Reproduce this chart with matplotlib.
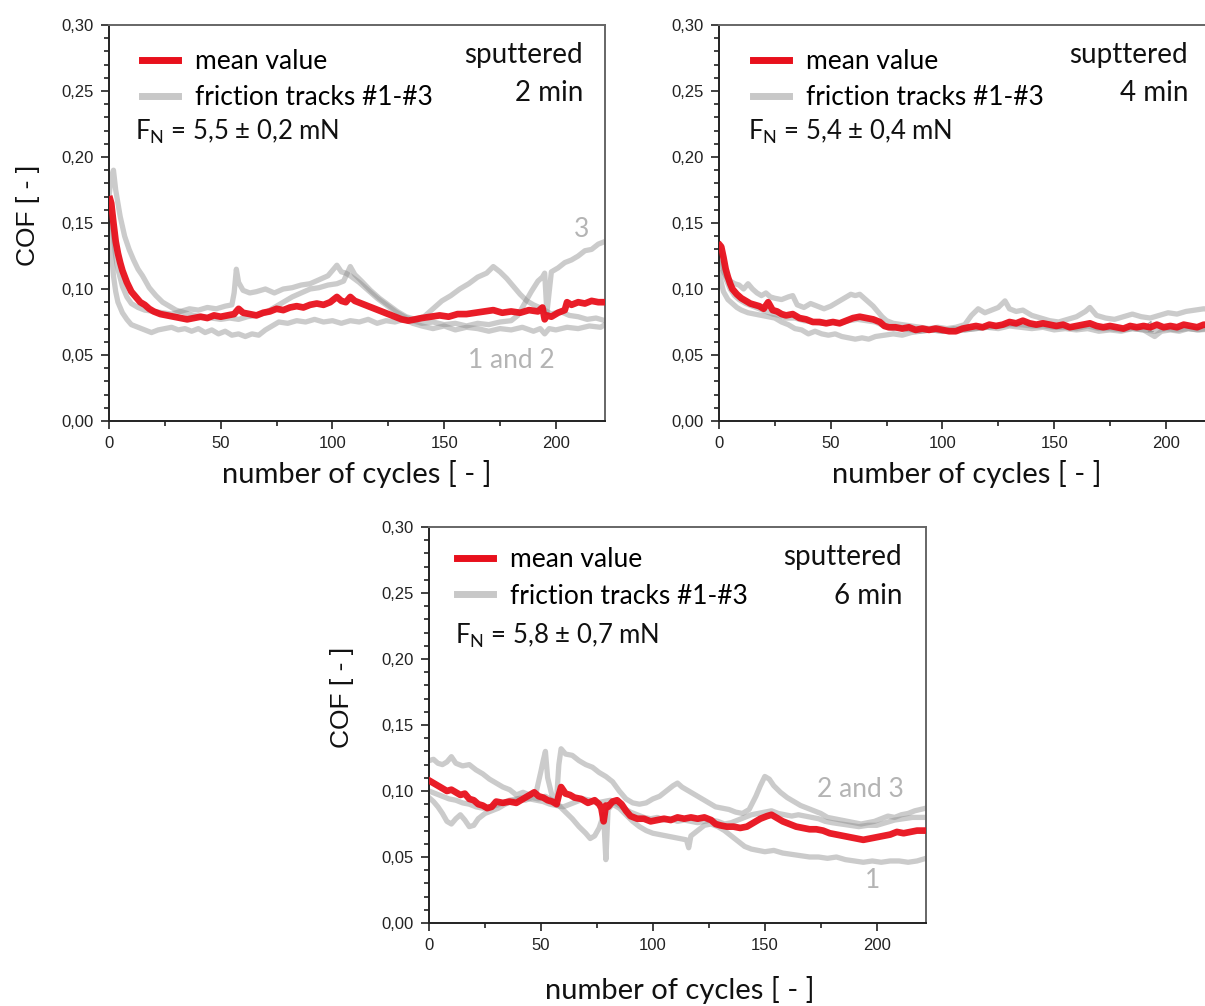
import matplotlib
matplotlib.use("Agg")
import matplotlib.pyplot as plt
from matplotlib.ticker import MultipleLocator, FuncFormatter

# ---------------- data ----------------
# Panel 1: sputtered 2 min
p1_t1_x = [0, 1, 2, 3, 4, 6, 8, 10, 13, 16, 19, 22, 25, 28, 31, 34, 37, 40, 43, 46, 49, 52, 55, 58, 61, 64, 67, 70, 73, 76, 80, 84, 88, 92, 96, 100, 104, 108, 112, 116, 120, 124, 128, 132, 136, 140, 145, 150, 155, 160, 165, 170, 175, 180, 185, 190, 193, 195, 197, 200, 205, 210, 215, 220, 222]
p1_t1_y = [0.15, 0.13, 0.11, 0.098, 0.09, 0.082, 0.077, 0.073, 0.071, 0.069, 0.067, 0.069, 0.07, 0.071, 0.069, 0.07, 0.068, 0.07, 0.067, 0.069, 0.066, 0.068, 0.065, 0.066, 0.064, 0.066, 0.065, 0.069, 0.072, 0.075, 0.074, 0.076, 0.075, 0.077, 0.075, 0.076, 0.074, 0.076, 0.075, 0.077, 0.074, 0.076, 0.075, 0.077, 0.074, 0.072, 0.07, 0.072, 0.069, 0.071, 0.07, 0.068, 0.07, 0.069, 0.071, 0.068, 0.07, 0.066, 0.07, 0.069, 0.071, 0.07, 0.072, 0.071, 0.073]
p1_t2_x = [0, 1, 2, 3, 5, 7, 9, 11, 13, 15, 18, 21, 24, 27, 30, 34, 38, 42, 46, 50, 54, 58, 62, 66, 70, 74, 78, 82, 86, 90, 94, 98, 102, 105, 108, 110, 113, 117, 121, 125, 129, 133, 137, 141, 145, 149, 153, 157, 161, 165, 169, 172, 175, 178, 181, 184, 187, 190, 194, 198, 202, 206, 210, 214, 218, 222]
p1_t2_y = [0.17, 0.185, 0.19, 0.175, 0.155, 0.14, 0.13, 0.122, 0.115, 0.11, 0.101, 0.095, 0.09, 0.087, 0.084, 0.082, 0.08, 0.079, 0.078, 0.077, 0.078, 0.077, 0.079, 0.08, 0.082, 0.086, 0.09, 0.094, 0.097, 0.1, 0.101, 0.103, 0.104, 0.106, 0.117, 0.111, 0.106, 0.099, 0.093, 0.088, 0.083, 0.079, 0.077, 0.079, 0.085, 0.091, 0.095, 0.1, 0.104, 0.109, 0.112, 0.117, 0.113, 0.108, 0.102, 0.096, 0.091, 0.088, 0.085, 0.081, 0.083, 0.08, 0.079, 0.077, 0.078, 0.076]
p1_t3_x = [0, 1, 2, 3, 4, 6, 8, 10, 13, 16, 20, 24, 28, 32, 36, 40, 44, 48, 52, 55, 56, 57, 58, 60, 63, 66, 70, 74, 78, 82, 86, 90, 94, 98, 100, 102, 104, 106, 108, 112, 116, 120, 124, 128, 132, 136, 140, 145, 150, 155, 160, 165, 170, 175, 180, 183, 186, 189, 192, 194, 195, 196, 198, 201, 204, 207, 210, 213, 216, 219, 222]
p1_t3_y = [0.16, 0.155, 0.14, 0.125, 0.115, 0.102, 0.094, 0.089, 0.086, 0.084, 0.083, 0.082, 0.081, 0.083, 0.085, 0.084, 0.086, 0.085, 0.087, 0.088, 0.097, 0.115, 0.105, 0.099, 0.097, 0.098, 0.1, 0.097, 0.1, 0.101, 0.103, 0.104, 0.107, 0.11, 0.114, 0.118, 0.113, 0.112, 0.11, 0.105, 0.099, 0.093, 0.088, 0.083, 0.079, 0.076, 0.074, 0.075, 0.073, 0.074, 0.072, 0.074, 0.073, 0.075, 0.076, 0.08, 0.089, 0.098, 0.106, 0.109, 0.112, 0.082, 0.113, 0.116, 0.12, 0.122, 0.125, 0.129, 0.13, 0.134, 0.136]
p1_mean_x = [0.5, 1, 2, 3, 4, 5, 6, 8, 10, 12, 14, 16, 18, 20, 23, 26, 29, 32, 35, 38, 41, 44, 47, 50, 53, 56, 58, 60, 63, 66, 69, 72, 75, 78, 81, 84, 87, 90, 93, 96, 99, 102, 104, 106, 108, 110, 113, 116, 119, 122, 125, 128, 131, 134, 137, 140, 144, 148, 152, 156, 160, 164, 168, 172, 176, 180, 184, 188, 192, 194, 195, 196, 198, 201, 204, 205, 207, 210, 213, 216, 219, 222]
p1_mean_y = [0.168, 0.165, 0.15, 0.136, 0.127, 0.12, 0.114, 0.105, 0.098, 0.094, 0.09, 0.088, 0.085, 0.083, 0.081, 0.08, 0.079, 0.078, 0.077, 0.078, 0.079, 0.078, 0.08, 0.079, 0.08, 0.081, 0.085, 0.082, 0.081, 0.08, 0.082, 0.083, 0.085, 0.084, 0.086, 0.087, 0.086, 0.088, 0.089, 0.088, 0.09, 0.094, 0.091, 0.09, 0.094, 0.091, 0.089, 0.087, 0.085, 0.083, 0.081, 0.079, 0.077, 0.076, 0.077, 0.078, 0.079, 0.08, 0.079, 0.081, 0.081, 0.082, 0.083, 0.084, 0.082, 0.083, 0.082, 0.084, 0.083, 0.086, 0.077, 0.08, 0.079, 0.082, 0.084, 0.09, 0.088, 0.09, 0.089, 0.091, 0.09, 0.09]

# Panel 2: supttered 4 min
p2_t1_x = [0, 1, 2, 3, 5, 7, 9, 11, 13, 15, 17, 19, 21, 23, 25, 28, 31, 33, 35, 38, 41, 44, 47, 50, 53, 56, 59, 61, 63, 65, 67, 69, 71, 73, 75, 78, 82, 86, 90, 94, 98, 102, 106, 110, 113, 116, 119, 122, 125, 128, 130, 133, 136, 140, 144, 148, 152, 156, 160, 164, 166, 169, 173, 177, 181, 185, 189, 193, 197, 201, 205, 209, 213, 217, 222]
p2_t1_y = [0.12, 0.118, 0.113, 0.11, 0.106, 0.104, 0.103, 0.1, 0.104, 0.1, 0.097, 0.095, 0.097, 0.094, 0.093, 0.092, 0.094, 0.095, 0.088, 0.086, 0.089, 0.087, 0.085, 0.087, 0.09, 0.093, 0.096, 0.095, 0.096, 0.093, 0.09, 0.087, 0.083, 0.079, 0.076, 0.074, 0.073, 0.072, 0.071, 0.07, 0.071, 0.07, 0.071, 0.073, 0.08, 0.085, 0.082, 0.084, 0.086, 0.091, 0.085, 0.083, 0.084, 0.08, 0.078, 0.076, 0.075, 0.077, 0.079, 0.083, 0.086, 0.08, 0.078, 0.077, 0.079, 0.081, 0.079, 0.078, 0.08, 0.082, 0.081, 0.083, 0.084, 0.085, 0.084]
p2_t2_x = [0, 1, 2, 4, 6, 8, 10, 13, 16, 19, 22, 25, 28, 31, 34, 37, 40, 43, 46, 49, 52, 55, 58, 61, 64, 67, 70, 74, 78, 82, 86, 90, 95, 100, 105, 110, 115, 120, 125, 130, 135, 140, 145, 150, 155, 160, 165, 170, 175, 180, 185, 190, 193, 195, 198, 202, 206, 210, 214, 218, 222]
p2_t2_y = [0.112, 0.105, 0.098, 0.092, 0.089, 0.086, 0.084, 0.082, 0.081, 0.08, 0.079, 0.078, 0.075, 0.073, 0.07, 0.069, 0.066, 0.068, 0.066, 0.065, 0.066, 0.064, 0.063, 0.062, 0.063, 0.062, 0.064, 0.065, 0.066, 0.065, 0.067, 0.068, 0.069, 0.068, 0.07, 0.069, 0.07, 0.071, 0.07, 0.072, 0.071, 0.07, 0.071, 0.069, 0.07, 0.069, 0.07, 0.068, 0.069, 0.068, 0.07, 0.069, 0.066, 0.064, 0.068, 0.069, 0.068, 0.07, 0.069, 0.07, 0.069]
p2_t3_x = [0, 1, 2, 3, 5, 7, 9, 12, 15, 18, 21, 24, 27, 30, 34, 38, 42, 46, 50, 54, 58, 62, 66, 70, 74, 78, 82, 86, 90, 95, 100, 105, 110, 115, 120, 125, 130, 135, 140, 145, 150, 155, 160, 165, 170, 175, 180, 185, 190, 195, 200, 205, 210, 215, 222]
p2_t3_y = [0.13, 0.125, 0.115, 0.108, 0.1, 0.095, 0.092, 0.089, 0.087, 0.085, 0.083, 0.081, 0.08, 0.078, 0.078, 0.076, 0.075, 0.074, 0.075, 0.074, 0.076, 0.077, 0.076, 0.075, 0.072, 0.07, 0.07, 0.069, 0.068, 0.069, 0.068, 0.068, 0.069, 0.07, 0.071, 0.072, 0.073, 0.073, 0.072, 0.072, 0.071, 0.071, 0.07, 0.072, 0.07, 0.07, 0.069, 0.07, 0.069, 0.068, 0.07, 0.069, 0.07, 0.069, 0.07]
p2_mean_x = [0.5, 1, 2, 3, 4, 5, 6, 8, 10, 12, 14, 16, 18, 20, 22, 24, 26, 28, 30, 33, 36, 39, 42, 45, 48, 51, 54, 57, 60, 63, 66, 69, 72, 74, 76, 79, 82, 85, 88, 91, 94, 97, 100, 103, 106, 109, 112, 115, 118, 121, 124, 127, 130, 133, 136, 139, 142, 145, 148, 151, 154, 157, 160, 163, 166, 169, 172, 175, 178, 181, 184, 187, 190, 193, 196, 199, 202, 205, 208, 211, 214, 217, 222]
p2_mean_y = [0.133, 0.132, 0.124, 0.115, 0.109, 0.104, 0.1, 0.096, 0.093, 0.091, 0.089, 0.088, 0.087, 0.085, 0.09, 0.084, 0.083, 0.081, 0.08, 0.081, 0.078, 0.077, 0.075, 0.075, 0.074, 0.075, 0.074, 0.076, 0.078, 0.079, 0.078, 0.077, 0.075, 0.072, 0.071, 0.071, 0.07, 0.071, 0.069, 0.07, 0.069, 0.07, 0.069, 0.068, 0.068, 0.07, 0.071, 0.072, 0.071, 0.073, 0.072, 0.073, 0.075, 0.074, 0.076, 0.074, 0.073, 0.074, 0.073, 0.072, 0.073, 0.071, 0.072, 0.073, 0.074, 0.072, 0.071, 0.072, 0.071, 0.07, 0.072, 0.071, 0.072, 0.071, 0.073, 0.071, 0.072, 0.071, 0.073, 0.072, 0.071, 0.073, 0.072]

# Panel 3: sputtered 6 min
p3_t1_x = [0, 2, 4, 6, 8, 10, 12, 14, 16, 18, 20, 22, 25, 28, 31, 34, 37, 40, 43, 46, 49, 52, 55, 58, 61, 64, 67, 70, 72, 74, 76, 78, 79, 80, 82, 85, 88, 91, 94, 97, 100, 103, 106, 109, 112, 115, 116, 117, 120, 123, 126, 129, 132, 135, 138, 141, 144, 147, 150, 154, 158, 162, 166, 170, 174, 178, 182, 186, 190, 194, 198, 202, 206, 210, 214, 218, 222]
p3_t1_y = [0.095, 0.092, 0.088, 0.083, 0.077, 0.075, 0.079, 0.082, 0.078, 0.073, 0.074, 0.079, 0.083, 0.085, 0.087, 0.09, 0.092, 0.094, 0.093, 0.095, 0.094, 0.096, 0.093, 0.089, 0.084, 0.079, 0.073, 0.068, 0.064, 0.066, 0.072, 0.082, 0.048, 0.086, 0.09, 0.087, 0.082, 0.077, 0.073, 0.07, 0.068, 0.067, 0.066, 0.065, 0.064, 0.063, 0.057, 0.066, 0.07, 0.074, 0.075, 0.073, 0.07, 0.066, 0.062, 0.058, 0.056, 0.055, 0.054, 0.055, 0.053, 0.052, 0.051, 0.05, 0.05, 0.049, 0.05, 0.048, 0.047, 0.046, 0.047, 0.046, 0.047, 0.047, 0.046, 0.047, 0.049]
p3_t2_x = [0, 3, 6, 9, 12, 15, 18, 21, 24, 27, 30, 33, 36, 39, 42, 45, 48, 51, 54, 57, 60, 63, 66, 69, 72, 75, 78, 81, 84, 87, 90, 93, 96, 99, 102, 105, 108, 111, 114, 117, 120, 123, 126, 129, 132, 135, 138, 141, 144, 147, 150, 153, 156, 159, 162, 165, 168, 171, 174, 177, 180, 184, 188, 192, 196, 200, 204, 208, 212, 216, 222]
p3_t2_y = [0.1, 0.098, 0.096, 0.094, 0.093, 0.091, 0.09, 0.088, 0.087, 0.088, 0.089, 0.091, 0.093, 0.094, 0.095, 0.094, 0.093, 0.092, 0.09, 0.089, 0.088, 0.09, 0.092, 0.094, 0.093, 0.091, 0.092, 0.093, 0.09, 0.087, 0.084, 0.082, 0.08, 0.079, 0.08, 0.078, 0.079, 0.077, 0.078, 0.077, 0.076, 0.077, 0.078, 0.077, 0.075, 0.076, 0.078, 0.08, 0.082, 0.083, 0.084, 0.085, 0.083, 0.082, 0.081, 0.082, 0.081, 0.08, 0.079, 0.077, 0.076, 0.075, 0.074, 0.073, 0.074, 0.074, 0.076, 0.078, 0.079, 0.08, 0.08]
p3_t3_x = [0, 2, 4, 6, 8, 10, 12, 15, 18, 21, 24, 27, 30, 33, 36, 39, 42, 45, 48, 50, 51, 52, 53, 55, 57, 58, 59, 61, 64, 67, 70, 73, 76, 79, 82, 85, 88, 91, 94, 97, 100, 103, 106, 109, 111, 113, 116, 119, 122, 125, 128, 131, 134, 137, 140, 143, 146, 148, 150, 152, 154, 157, 160, 163, 166, 169, 172, 175, 178, 181, 184, 187, 190, 193, 196, 199, 202, 205, 208, 211, 214, 217, 222]
p3_t3_y = [0.123, 0.124, 0.121, 0.12, 0.122, 0.126, 0.121, 0.119, 0.12, 0.116, 0.113, 0.109, 0.106, 0.103, 0.101, 0.097, 0.099, 0.097, 0.1, 0.115, 0.123, 0.13, 0.11, 0.096, 0.094, 0.12, 0.132, 0.128, 0.127, 0.123, 0.12, 0.118, 0.114, 0.111, 0.107, 0.1, 0.094, 0.091, 0.09, 0.091, 0.094, 0.096, 0.1, 0.104, 0.106, 0.103, 0.1, 0.097, 0.094, 0.091, 0.088, 0.087, 0.086, 0.084, 0.083, 0.086, 0.096, 0.104, 0.111, 0.109, 0.104, 0.099, 0.095, 0.092, 0.089, 0.087, 0.085, 0.083, 0.08, 0.079, 0.078, 0.077, 0.076, 0.075, 0.076, 0.077, 0.079, 0.081, 0.08, 0.082, 0.083, 0.085, 0.087]
p3_mean_x = [0, 2, 4, 6, 8, 10, 12, 14, 16, 18, 20, 22, 24, 26, 28, 30, 33, 36, 39, 42, 45, 47, 49, 51, 53, 55, 57, 58, 59, 61, 63, 65, 68, 71, 74, 76, 77, 78, 79, 80, 82, 84, 86, 88, 90, 93, 96, 99, 102, 105, 108, 111, 114, 117, 120, 123, 126, 128, 130, 133, 136, 139, 142, 145, 148, 151, 153, 155, 158, 161, 164, 167, 170, 173, 176, 179, 182, 185, 188, 191, 194, 197, 200, 203, 206, 209, 212, 215, 218, 222]
p3_mean_y = [0.108, 0.106, 0.104, 0.102, 0.1, 0.101, 0.099, 0.097, 0.098, 0.094, 0.093, 0.09, 0.089, 0.087, 0.088, 0.092, 0.091, 0.092, 0.091, 0.094, 0.097, 0.099, 0.096, 0.095, 0.093, 0.092, 0.09, 0.097, 0.103, 0.098, 0.097, 0.095, 0.094, 0.091, 0.093, 0.09, 0.087, 0.077, 0.089, 0.088, 0.092, 0.093, 0.09, 0.085, 0.081, 0.079, 0.079, 0.077, 0.078, 0.079, 0.078, 0.08, 0.079, 0.08, 0.079, 0.08, 0.078, 0.075, 0.074, 0.073, 0.073, 0.072, 0.073, 0.076, 0.079, 0.081, 0.082, 0.08, 0.077, 0.075, 0.073, 0.072, 0.071, 0.071, 0.07, 0.068, 0.067, 0.066, 0.065, 0.064, 0.063, 0.064, 0.065, 0.066, 0.067, 0.069, 0.068, 0.069, 0.07, 0.07]

panel_titles = [("sputtered", "2 min"), ("supttered", "4 min"), ("sputtered", "6 min")]
panel_forces = ["5,5 ± 0,2", "5,4 ± 0,4", "5,8 ± 0,7"]
legend_labels = ["mean value", "friction tracks #1-#3"]
x_label = "number of cycles [ - ]"
y_label = "COF [ - ]"

# ---------------- style ----------------
TXT_FONT = ["Lato", "DejaVu Sans"]
TICK_FONT = ["Liberation Sans", "DejaVu Sans"]
plt.rcParams["mathtext.default"] = "regular"
plt.rcParams["font.family"] = TXT_FONT

RED = "#e8101c"
GRAY = "#8c8c8c"
LABEL_GRAY = "#b4b4b4"
TXT_SIZE = 19

fig = plt.figure(figsize=(12.05, 10.06), dpi=100)

axes_rects = [
    [109 / 1205, 1 - 421 / 1006, 496 / 1205, 396 / 1006],
    [719 / 1205, 1 - 421 / 1006, 496 / 1205, 396 / 1006],
    [429 / 1205, 1 - 923 / 1006, 497 / 1205, 396 / 1006],
]

tracks = [
    [(p1_t1_x, p1_t1_y), (p1_t2_x, p1_t2_y), (p1_t3_x, p1_t3_y)],
    [(p2_t1_x, p2_t1_y), (p2_t2_x, p2_t2_y), (p2_t3_x, p2_t3_y)],
    [(p3_t1_x, p3_t1_y), (p3_t2_x, p3_t2_y), (p3_t3_x, p3_t3_y)],
]
means = [(p1_mean_x, p1_mean_y), (p2_mean_x, p2_mean_y), (p3_mean_x, p3_mean_y)]

fmt = FuncFormatter(lambda v, p: f"{v:.2f}".replace(".", ","))

ylabel_pos = [(-0.139, 0.52), None, (-0.151, 0.57)]
xlabel_pos = [(0.5, -0.099), (0.5, -0.099), (0.505, -0.135)]
legend_top = [0.965, 0.965, 0.975]
legend_left = [0.045, 0.048, 0.035]
fn_y = [0.73, 0.73, 0.725]
title_y1 = [0.925, 0.925, 0.925]
title_y2 = [0.828, 0.828, 0.825]

for i, rect in enumerate(axes_rects):
    ax = fig.add_axes(rect)
    gray_handle = None
    for tx, ty in tracks[i]:
        ln, = ax.plot(tx, ty, color=GRAY, alpha=0.45, lw=3.8, solid_joinstyle="round", zorder=2)
        gray_handle = ln
    mx, my = means[i]
    red_handle, = ax.plot(mx, my, color=RED, lw=4.8, alpha=0.95, solid_joinstyle="round", zorder=3)

    ax.set_xlim(0, 222)
    ax.set_ylim(0, 0.30)
    ax.xaxis.set_major_locator(MultipleLocator(50))
    ax.xaxis.set_minor_locator(MultipleLocator(25))
    ax.yaxis.set_major_locator(MultipleLocator(0.05))
    ax.yaxis.set_minor_locator(MultipleLocator(0.01))
    ax.yaxis.set_major_formatter(fmt)
    ax.tick_params(which="both", direction="out", color="#222222", width=1.2)
    ax.tick_params(which="major", length=6, labelsize=12, pad=5, labelcolor="#222222")
    ax.tick_params(which="minor", length=3.5)
    for lab in ax.get_xticklabels() + ax.get_yticklabels():
        lab.set_fontfamily(TICK_FONT)
    for s in ("left", "bottom"):
        ax.spines[s].set_color("#222222")
        ax.spines[s].set_linewidth(1.4)
    for s in ("top", "right"):
        ax.spines[s].set_color("#666666")
        ax.spines[s].set_linewidth(1.4)

    ax.set_xlabel(x_label, fontsize=TXT_SIZE + 2, family=TXT_FONT, color="#111111")
    ax.xaxis.set_label_coords(*xlabel_pos[i])
    if ylabel_pos[i] is not None:
        ax.set_ylabel(y_label, fontsize=TXT_SIZE, family=TICK_FONT, color="#111111")
        ax.yaxis.set_label_coords(*ylabel_pos[i])

    leg = ax.legend([red_handle, gray_handle], legend_labels, loc="upper left",
                    bbox_to_anchor=(legend_left[i], legend_top[i]), frameon=False,
                    prop={"family": TXT_FONT, "size": TXT_SIZE},
                    handlelength=1.35, handletextpad=0.65, labelspacing=0.42,
                    borderaxespad=0)
    for h in leg.get_lines():
        h.set_linewidth(5)
        h.set_alpha(None)
    leg.get_lines()[1].set_color("#c8c8c8")

    ax.text(0.052 if i != 1 else 0.058, fn_y[i],
            "F$_N$ = " + panel_forces[i] + " mN", transform=ax.transAxes,
            ha="left", va="center", fontsize=TXT_SIZE - 0.5, color="#111111")
    right = [0.956, 0.946, 0.952][i]
    ax.text(right, title_y1[i], panel_titles[i][0], transform=ax.transAxes,
            ha="right", va="center", fontsize=TXT_SIZE + 1, color="#111111")
    ax.text(right, title_y2[i], panel_titles[i][1], transform=ax.transAxes,
            ha="right", va="center", fontsize=TXT_SIZE + 1, color="#111111")

    if i == 0:
        ax.text(211.5, 0.145, "3", ha="center", va="center", fontsize=TXT_SIZE, color=LABEL_GRAY)
        ax.text(180, 0.046, "1 and 2", ha="center", va="center", fontsize=TXT_SIZE, color=LABEL_GRAY)
    elif i == 1:
        ax.text(193, 0.0705, "1", ha="center", va="center", fontsize=11, color="#a8a8a8", zorder=1)
    else:
        ax.text(192.5, 0.101, "2 and 3", ha="center", va="center", fontsize=TXT_SIZE, color=LABEL_GRAY)
        ax.text(198, 0.032, "1", ha="center", va="center", fontsize=TXT_SIZE, color=LABEL_GRAY)

fig.savefig("out.png", dpi=100, facecolor="white")
